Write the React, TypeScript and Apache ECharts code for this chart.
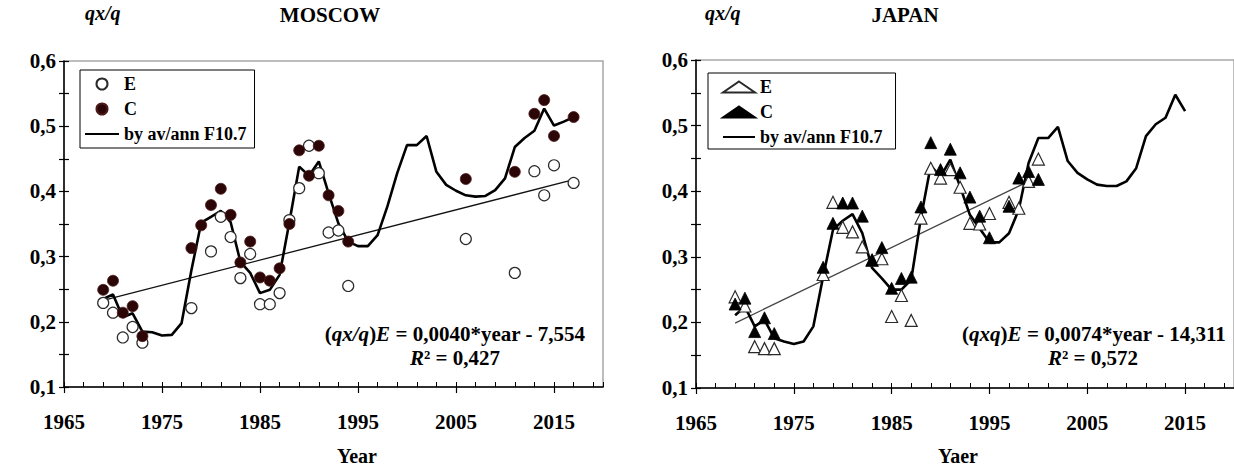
import React, { useEffect, useRef } from "react";
import * as echarts from "echarts";

// ---------- DATA ----------
// Moscow: model line (by av/ann F10.7), 1969..2017
const moscowLineYears = [1969, 1970, 1971, 1972, 1973, 1974, 1975, 1976, 1977, 1978, 1979, 1980, 1981, 1982, 1983, 1984, 1985, 1986, 1987, 1988, 1989, 1990, 1991, 1992, 1993, 1994, 1995, 1996, 1997, 1998, 1999, 2000, 2001, 2002, 2003, 2004, 2005, 2006, 2007, 2008, 2009, 2010, 2011, 2012, 2013, 2014, 2015, 2016, 2017];
const moscowLineValues = [0.235, 0.242, 0.207, 0.213, 0.185, 0.184, 0.179, 0.180, 0.198, 0.279, 0.352, 0.361, 0.370, 0.353, 0.292, 0.275, 0.244, 0.249, 0.272, 0.353, 0.438, 0.424, 0.446, 0.397, 0.351, 0.323, 0.316, 0.316, 0.333, 0.377, 0.428, 0.471, 0.471, 0.485, 0.430, 0.410, 0.401, 0.394, 0.392, 0.393, 0.402, 0.420, 0.468, 0.482, 0.493, 0.527, 0.501, 0.507, 0.514];
// Moscow: E observations
const moscowEYears = [1969, 1970, 1971, 1972, 1973, 1978, 1980, 1981, 1982, 1983, 1984, 1985, 1986, 1987, 1988, 1989, 1990, 1991, 1992, 1993, 1994, 2006, 2011, 2013, 2014, 2015, 2017];
const moscowEValues = [0.229, 0.214, 0.176, 0.192, 0.168, 0.221, 0.308, 0.361, 0.330, 0.267, 0.304, 0.227, 0.227, 0.244, 0.356, 0.405, 0.470, 0.428, 0.337, 0.340, 0.255, 0.327, 0.275, 0.431, 0.394, 0.440, 0.413];
// Moscow: C observations
const moscowCYears = [1969, 1970, 1971, 1972, 1973, 1978, 1979, 1980, 1981, 1982, 1983, 1984, 1985, 1986, 1987, 1988, 1989, 1990, 1991, 1992, 1993, 1994, 2006, 2011, 2013, 2014, 2015, 2017];
const moscowCValues = [0.249, 0.263, 0.214, 0.224, 0.178, 0.313, 0.348, 0.379, 0.404, 0.364, 0.291, 0.323, 0.268, 0.263, 0.282, 0.350, 0.463, 0.424, 0.470, 0.394, 0.370, 0.323, 0.419, 0.430, 0.519, 0.540, 0.485, 0.514];
// Moscow: linear trend of E (end points as drawn)
const moscowTrendYears = [1969, 2017];
const moscowTrendValues = [0.233, 0.418];

// Japan: model line 1969..2015
const japanLineYears = [1969, 1970, 1971, 1972, 1973, 1974, 1975, 1976, 1977, 1978, 1979, 1980, 1981, 1982, 1983, 1984, 1985, 1986, 1987, 1988, 1989, 1990, 1991, 1992, 1993, 1994, 1995, 1996, 1997, 1998, 1999, 2000, 2001, 2002, 2003, 2004, 2005, 2006, 2007, 2008, 2009, 2010, 2011, 2012, 2013, 2014, 2015];
const japanLineValues = [0.211, 0.224, 0.194, 0.204, 0.176, 0.171, 0.167, 0.171, 0.194, 0.270, 0.341, 0.355, 0.365, 0.336, 0.283, 0.267, 0.250, 0.250, 0.265, 0.360, 0.439, 0.422, 0.448, 0.407, 0.364, 0.343, 0.322, 0.322, 0.336, 0.372, 0.443, 0.481, 0.481, 0.498, 0.446, 0.428, 0.418, 0.410, 0.408, 0.408, 0.415, 0.435, 0.484, 0.502, 0.512, 0.547, 0.522];
const japanEYears = [1969, 1970, 1971, 1972, 1973, 1978, 1979, 1980, 1981, 1982, 1983, 1984, 1985, 1986, 1987, 1988, 1989, 1990, 1991, 1992, 1993, 1994, 1995, 1997, 1998, 1999, 2000];
const japanEValues = [0.239, 0.225, 0.163, 0.160, 0.160, 0.273, 0.383, 0.345, 0.338, 0.315, 0.295, 0.297, 0.209, 0.241, 0.203, 0.359, 0.435, 0.420, 0.433, 0.406, 0.351, 0.350, 0.366, 0.383, 0.374, 0.415, 0.449];
const japanCYears = [1969, 1970, 1971, 1972, 1973, 1978, 1979, 1980, 1981, 1982, 1983, 1984, 1985, 1986, 1987, 1988, 1989, 1990, 1991, 1992, 1993, 1994, 1995, 1997, 1998, 1999, 2000];
const japanCValues = [0.228, 0.237, 0.186, 0.207, 0.183, 0.284, 0.351, 0.382, 0.382, 0.362, 0.295, 0.314, 0.252, 0.267, 0.269, 0.376, 0.474, 0.433, 0.464, 0.428, 0.391, 0.362, 0.329, 0.377, 0.420, 0.430, 0.418];
const japanTrendYears = [1969, 1999];
const japanTrendValues = [0.199, 0.415];

const LINE_NAME = "by av/ann F10.7";
const FONT = "'Liberation Serif', 'Times New Roman', serif";

const pairs = (xs: number[], ys: number[]) => xs.map((x, i) => [x, ys[i]]);

function buildOption(cfg: any) {
  const baseX = {
    type: "value",
    min: 1965,
    max: 2020,
    splitLine: { show: false },
    gridIndex: 0,
  };
  const baseY = {
    type: "value",
    min: 0.1,
    max: 0.6,
    interval: 0.05,
    splitLine: { show: false },
  };
  const richStyles = {
    n: { fontFamily: FONT, fontWeight: "bold", fontSize: 21, color: "#000" },
    i: { fontFamily: FONT, fontWeight: "bold", fontStyle: "italic", fontSize: 21, color: "#000" },
  };
  return {
    animation: false,
    grid: {
      left: cfg.grid.left,
      top: cfg.grid.top,
      width: cfg.grid.width,
      height: cfg.grid.height,
      show: true,
      borderColor: "#a8a8a8",
      borderWidth: 1.5,
    },
    xAxis: [
      {
        ...baseX,
        interval: 10,
        position: "bottom",
        axisLine: { show: true, lineStyle: { color: "#000", width: 1.5 } },
        axisTick: { show: true, inside: false, length: 6, lineStyle: { color: "#000", width: 1.2 } },
        axisLabel: {
          show: true,
          showMaxLabel: false,
          margin: 24,
          color: "#000",
          fontFamily: FONT,
          fontWeight: "bold",
          fontSize: 21,
          formatter: (v: number) => String(v),
        },
      },
      {
        ...baseX,
        interval: 2,
        position: "bottom",
        axisLine: { show: false },
        axisTick: { show: true, inside: true, length: 5, lineStyle: { color: "#000", width: 1 } },
        axisLabel: { show: false },
      },
    ],
    yAxis: [
      {
        ...baseY,
        position: "left",
        axisLine: { show: true, lineStyle: { color: "#000", width: 1.5 } },
        axisTick: { show: true, inside: false, length: 5, lineStyle: { color: "#000", width: 1.2 } },
        axisLabel: {
          margin: 8,
          color: "#000",
          fontFamily: FONT,
          fontWeight: "bold",
          fontSize: 21,
          formatter: (v: number) => {
            const r = Math.round(v * 100);
            if (r % 10 !== 0) return "";
            return (r / 100).toFixed(1).replace(".", ",");
          },
        },
      },
      {
        ...baseY,
        position: "left",
        axisLine: { show: false },
        axisTick: { show: true, inside: true, length: 5, lineStyle: { color: "#000", width: 1.2 } },
        axisLabel: { show: false },
      },
    ],
    legend: {
      data: [
        { name: "E", icon: cfg.symbol, symbolKeepAspect: true },
        { name: "C", icon: cfg.symbol, symbolKeepAspect: true },
        { name: LINE_NAME, itemStyle: { color: "rgba(0,0,0,0)", borderColor: "rgba(0,0,0,0)", borderWidth: 0 } },
      ],
      symbolKeepAspect: true,
      left: cfg.legend.left,
      top: cfg.legend.top,
      orient: "vertical",
      selectedMode: false,
      itemWidth: cfg.legend.itemWidth,
      itemHeight: cfg.legend.itemHeight,
      itemGap: 7,
      padding: cfg.legend.padding,
      borderColor: "#000",
      borderWidth: 1,
      backgroundColor: "#fff",
      textStyle: {
        color: "#000",
        fontFamily: FONT,
        fontWeight: "bold",
        fontSize: 18,
        lineHeight: 18,
      },
    },
    series: [
      {
        name: "trend",
        type: "line",
        data: pairs(cfg.trendYears, cfg.trendValues),
        symbol: "none",
        itemStyle: { color: cfg.trendColor },
        lineStyle: { color: cfg.trendColor, width: 1.3 },
        z: 1,
      },
      {
        name: LINE_NAME,
        type: "line",
        data: pairs(cfg.lineYears, cfg.lineValues),
        symbol: "none",
        itemStyle: { color: "#000" },
        lineStyle: { color: "#000", width: 2.6 },
        z: 2,
      },
      {
        name: "E",
        type: "scatter",
        data: pairs(cfg.eYears, cfg.eValues),
        symbol: cfg.symbol,
        symbolSize: cfg.symbolSize,
        symbolKeepAspect: true,
        itemStyle: { color: "#fff", borderColor: "#2a2a2a", borderWidth: 1.2, opacity: 1 },
        z: 3,
      },
      {
        name: "C",
        type: "scatter",
        data: pairs(cfg.cYears, cfg.cValues),
        symbol: cfg.symbol,
        symbolSize: cfg.symbolSize,
        symbolKeepAspect: true,
        itemStyle: { color: cfg.cColor, borderColor: cfg.cBorder, borderWidth: 0.8, opacity: 1 },
        z: 4,
      },
    ],
    graphic: [
      {
        type: "text",
        x: cfg.title.x,
        y: cfg.title.y,
        style: {
          text: cfg.title.text,
          fill: "#000",
          fontFamily: FONT,
          fontWeight: "bold",
          fontSize: 21,
          align: "center",
          verticalAlign: "middle",
        },
      },
      {
        type: "text",
        x: cfg.yName.x,
        y: cfg.yName.y,
        style: {
          text: "qx/q",
          fill: "#000",
          fontFamily: FONT,
          fontWeight: "bold",
          fontStyle: "italic",
          fontSize: 20,
          align: "left",
          verticalAlign: "middle",
        },
      },
      {
        type: "text",
        x: cfg.xName.x,
        y: cfg.xName.y,
        style: {
          text: cfg.xName.text,
          fill: "#000",
          fontFamily: FONT,
          fontWeight: "bold",
          fontSize: 20,
          align: "center",
          verticalAlign: "middle",
        },
      },
      {
        type: "text",
        x: cfg.eq.x,
        y: cfg.eq.y,
        style: {
          text: cfg.eq.text,
          align: "center",
          verticalAlign: "middle",
          rich: richStyles,
        },
      },
      {
        type: "text",
        x: cfg.r2.x,
        y: cfg.r2.y,
        style: {
          text: cfg.r2.text,
          align: "center",
          verticalAlign: "middle",
          rich: richStyles,
        },
      },
    ],
  };
}

const moscowCfg = {
  grid: { left: 64, top: 61, width: 539, height: 326 },
  legend: { left: 80, top: 70, itemWidth: 34, itemHeight: 11, padding: [5, 8, 5, 4] },
  lineYears: moscowLineYears,
  lineValues: moscowLineValues,
  eYears: moscowEYears,
  eValues: moscowEValues,
  cYears: moscowCYears,
  cValues: moscowCValues,
  trendYears: moscowTrendYears,
  trendValues: moscowTrendValues,
  trendColor: "#111",
  symbol: "circle",
  symbolSize: 11,
  cColor: "#2c0606",
  cBorder: "#4a1a1a",
  title: { x: 330, y: 15, text: "MOSCOW" },
  yName: { x: 85, y: 13 },
  xName: { x: 357, y: 456, text: "Year" },
  eq: { x: 455, y: 334, text: "{n|(}{i|qx/q}{n|)}{i|E}{n| = 0,0040*year - 7,554}" },
  r2: { x: 455, y: 358, text: "{i|R}{n|² = 0,427}" },
};

const japanCfg = {
  grid: { left: 79, top: 60, width: 539, height: 328 },
  legend: { left: 91, top: 73, itemWidth: 32, itemHeight: 11, padding: [5, 13, 3, 14] },
  lineYears: japanLineYears,
  lineValues: japanLineValues,
  eYears: japanEYears,
  eValues: japanEValues,
  cYears: japanCYears,
  cValues: japanCValues,
  trendYears: japanTrendYears,
  trendValues: japanTrendValues,
  trendColor: "#444",
  symbol: "triangle",
  symbolSize: 12,
  cColor: "#000",
  cBorder: "#000",
  title: { x: 288, y: 15, text: "JAPAN" },
  yName: { x: 88, y: 13 },
  xName: { x: 341, y: 456, text: "Yaer" },
  eq: { x: 477, y: 334, text: "{n|(}{i|qxq}{n|)}{i|E}{n| = 0,0074*year - 14,311}" },
  r2: { x: 476, y: 358, text: "{i|R}{n|² = 0,572}" },
};

function ChartPanel({ cfg, left }: { cfg: any; left: number }) {
  const ref = useRef<HTMLDivElement>(null);
  useEffect(() => {
    if (!ref.current) return;
    const chart = echarts.init(ref.current, undefined, { renderer: "svg" });
    chart.setOption(buildOption(cfg) as any);
    return () => chart.dispose();
  }, [cfg]);
  return (
    <div
      ref={ref}
      style={{ position: "absolute", left, top: 0, width: 617, height: 468, overflow: "hidden" }}
    />
  );
}

export default function App() {
  return (
    <div style={{ position: "fixed", left: 0, top: 0, width: 1234, height: 468, background: "#fff" }}>
      <ChartPanel cfg={moscowCfg} left={0} />
      <ChartPanel cfg={japanCfg} left={617} />
    </div>
  );
}
